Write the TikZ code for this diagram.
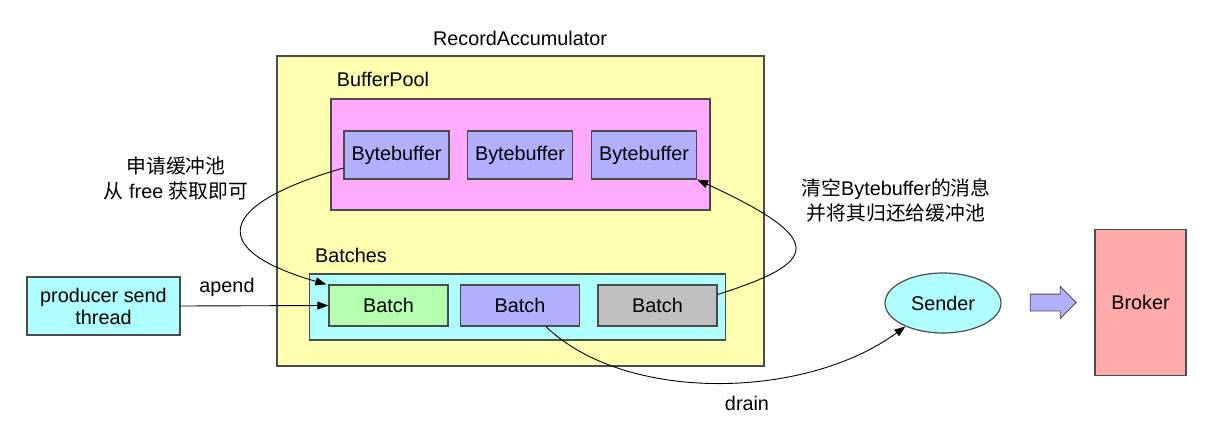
\documentclass[tikz,border=0pt]{standalone}
\usepackage{fontspec}
\setmainfont{Liberation Sans}
\newfontfamily\cjk{Noto Sans CJK SC}
\usetikzlibrary{shapes.geometric,shapes.arrows,arrows.meta,calc}

\definecolor{edge}{RGB}{75,75,75}
\definecolor{accu}{RGB}{255,255,176}
\definecolor{pool}{RGB}{255,170,255}
\definecolor{bbuf}{RGB}{176,176,255}
\definecolor{aqua}{RGB}{176,255,255}
\definecolor{fresh}{RGB}{180,255,176}
\definecolor{done}{RGB}{192,192,192}
\definecolor{broker}{RGB}{255,170,170}

\tikzset{
  box/.style={draw=edge, line width=1.2pt, inner sep=0pt, font=\fontsize{19.8}{23}\selectfont},
  label/.style={inner sep=0pt, font=\fontsize{19.8}{23}\selectfont},
  link/.style={black, line width=0.9pt, -{Triangle[length=11pt,width=8pt]}},
}

\begin{document}
\begin{tikzpicture}[x=1pt,y=-1pt]
  \useasboundingbox (0,0) rectangle (1211,434);

  % RecordAccumulator and its pool
  \node[box, fill=accu, minimum width=487, minimum height=310] (acc) at (520.5,211) {};
  \node[label] (acct) at (520,38) {RecordAccumulator};
  \node[box, fill=pool, minimum width=379, minimum height=111] (pool) at (520.5,154.5) {};
  \node[label] (poolt) at (383,79) {BufferPool};
  \node[box, fill=bbuf, minimum width=105, minimum height=48] (bb1) at (396.5,155) {Bytebuffer};
  \node[box, fill=bbuf, minimum width=105, minimum height=48] (bb2) at (520,155) {Bytebuffer};
  \node[box, fill=bbuf, minimum width=105, minimum height=48] (bb3) at (644,155) {Bytebuffer};

  % Batches
  \node[label] (batt) at (351,255) {Batches};
  \node[box, fill=aqua, minimum width=416, minimum height=66] (bats) at (517.5,307) {};
  \node[box, fill=fresh, minimum width=119, minimum height=41] (b1) at (388.5,305.5) {Batch};
  \node[box, fill=bbuf, minimum width=119, minimum height=41] (b2) at (520,305.5) {Batch};
  \node[box, fill=done, minimum width=119, minimum height=41] (b3) at (657.5,305.5) {Batch};

  % Producer, sender, broker
  \node[box, fill=aqua, minimum width=153, minimum height=58, align=center] (prod) at (103.5,306)
    {producer send\\[-1pt]thread};
  \node[box, ellipse, fill=aqua, minimum width=116, minimum height=60] (send) at (943,303) {Sender};
  \node[box, fill=broker, minimum width=91, minimum height=146] (brk) at (1140.5,302.5) {Broker};
  \node[draw=edge, line width=0.9pt, fill=bbuf, single arrow, minimum height=46,
        inner xsep=0pt, inner ysep=8pt, single arrow head extend=7.5pt] (flow) at (1049,302.5) {};

  % Texts
  \node[label, align=center] (ask) at (176,178)
    {{\cjk 申请缓冲池}\\[2pt]{\cjk 从} free {\cjk 获取即可}};
  \node[label, align=center] (back) at (896,200)
    {{\cjk 清空}Bytebuffer{\cjk 的消息}\\[2pt]{\cjk 并将其归还给缓冲池}};
  \node[label] (apt) at (227,287) {apend};
  \node[label] (drt) at (747,403) {drain};

  % Connectors
  \draw[link] (prod.east) -- (b1.west);
  \draw[link] ($(bb1.west)+(0,13)$) .. controls (215,205) and (207,250) .. ($(b1.north west)+(-2,0)$);
  \draw[link] ($(b3.east)+(0,-11)$) .. controls (820,262) and (828,240) .. (bb3.south east);
  \draw[link] ($(b2.south)+(26,0)$) .. controls (625,403) and (805,400) .. (send.212);
\end{tikzpicture}
\end{document}
